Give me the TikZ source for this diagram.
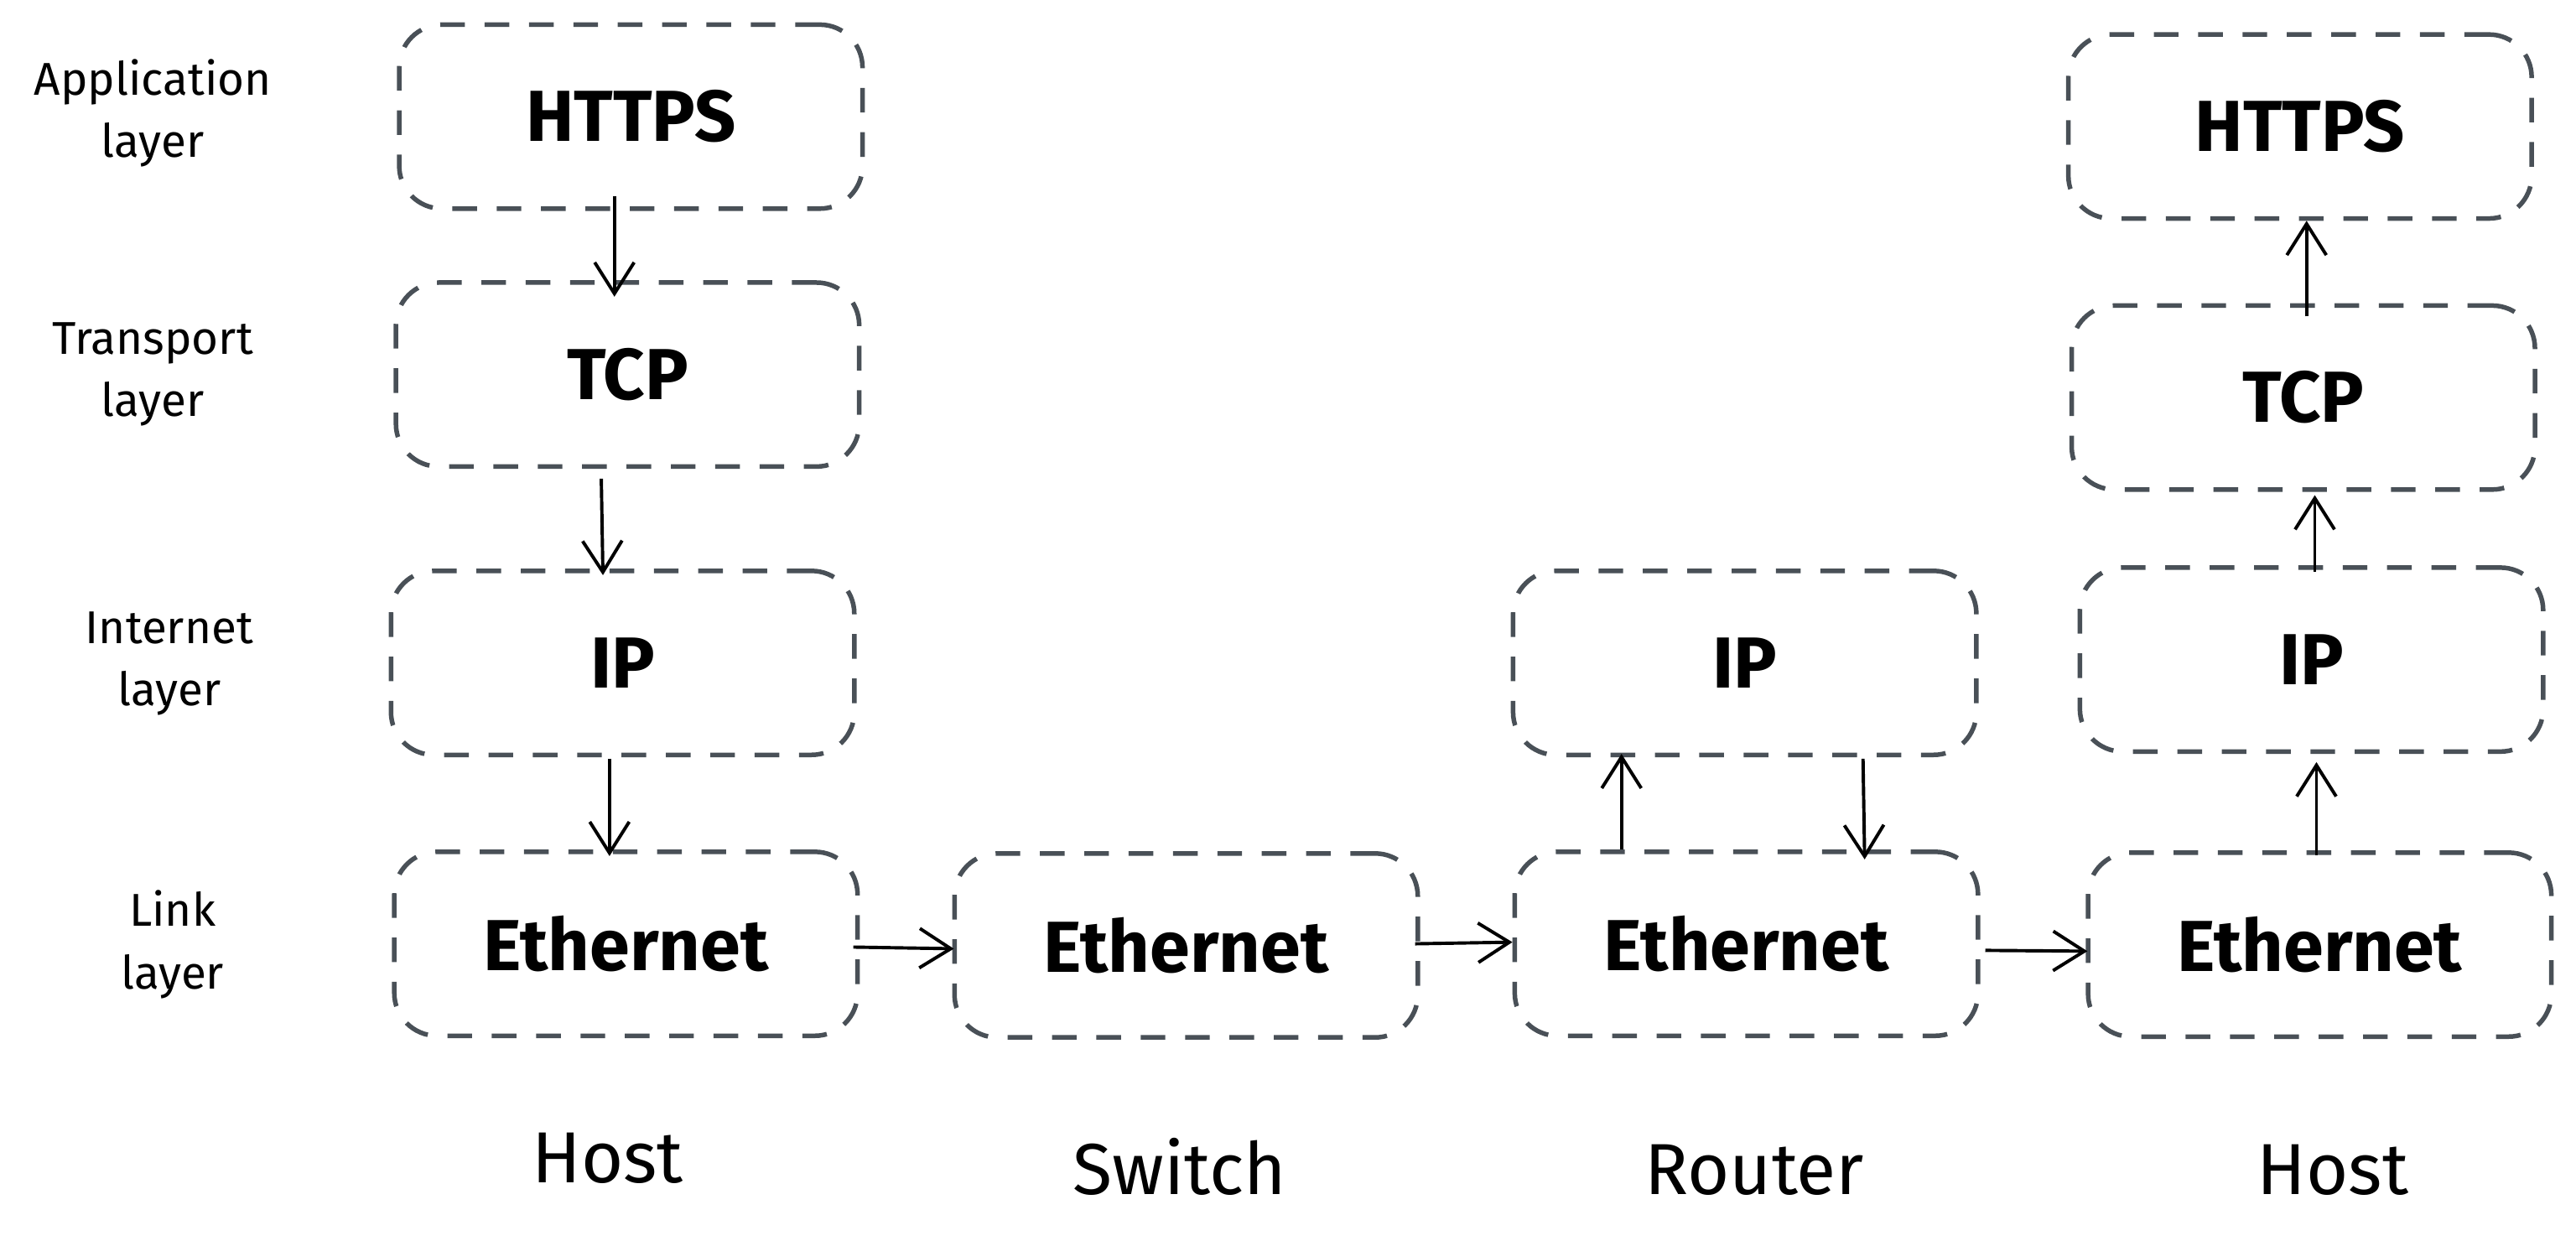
\documentclass[tikz,border=0pt]{standalone}
\usepackage{fontspec}
\setmainfont{Fira Sans}
\usetikzlibrary{arrows.meta}
\definecolor{boxgray}{RGB}{73,80,87}
\begin{document}
\begin{tikzpicture}[x=0.5pt,y=-0.5pt,
  layerbox/.style={draw=boxgray, line width=1.4pt, dash pattern=on 7.5pt off 6pt,
    rounded corners=13pt, minimum width=141pt, minimum height=56pt,
    font=\fontsize{22}{26}\selectfont\bfseries, text=black, inner sep=0pt},
  sidelabel/.style={align=center, font=\fontsize{14}{19}\selectfont, text=black},
  devlabel/.style={font=\fontsize{22}{26}\selectfont, text=black},
  arr/.style={draw=black, line width=1pt, -{Straight Barb[length=9.5pt,width=12pt]}}]
\useasboundingbox (0,0) rectangle (1568,755);
\fill[white] (0,0) rectangle (1568,755);

% side labels
\node[sidelabel] (lapp) at (93,69) {Application\\layer};
\node[sidelabel] (ltra) at (93,228) {Transport\\layer};
\node[sidelabel] (lint) at (103,404) {Internet\\layer};
\node[sidelabel] (llnk) at (105,575) {Link\\layer};

% host 1
\node[layerbox] (ha) at (384,71) {HTTPS};
\node[layerbox] (ht) at (382,228) {TCP};
\node[layerbox] (hi) at (379,403.5) {IP};
\node[layerbox] (he) at (381,574.5) {Ethernet};
% switch
\node[layerbox] (se) at (722,575.5) {Ethernet};
% router
\node[layerbox] (ri) at (1062,403.5) {IP};
\node[layerbox] (re) at (1063,574.5) {Ethernet};
% host 2
\node[layerbox] (ga) at (1400,77) {HTTPS};
\node[layerbox] (gt) at (1402,242) {TCP};
\node[layerbox] (gi) at (1407,401.5) {IP};
\node[layerbox] (ge) at (1412,575) {Ethernet};

% device labels
\node[devlabel] (d1) at (370,705) {Host};
\node[devlabel] (d2) at (718,710) {Switch};
\node[devlabel] (d3) at (1068,712) {Router};
\node[devlabel] (d4) at (1420,712) {Host};

% arrows down host 1
\draw[arr] ([xshift=-5pt,yshift=4.5pt]ha.south) -- ([xshift=-4pt,yshift=-5pt]ht.north);
\draw[arr] ([xshift=-8pt,yshift=-3pt]ht.south) -- ([xshift=-6pt,yshift=-2pt]hi.north);
\draw[arr] ([xshift=-4pt,yshift=-0.5pt]hi.south) -- ([xshift=-5pt,yshift=-2pt]he.north);
% horizontal
\draw[arr] ([xshift=-2pt,yshift=-1pt]he.east) -- ([xshift=0.5pt,yshift=-1pt]se.west);
\draw[arr] ([xshift=-1.5pt,yshift=0.5pt]se.east) -- ([yshift=0.5pt]re.west);
\draw[arr] ([xshift=1.5pt,yshift=-2pt]re.east) -- ([xshift=0.5pt,yshift=-2pt]ge.west);
% router
\draw[arr] ([xshift=-38pt]re.north) -- ([xshift=-37.5pt,yshift=1pt]ri.south);
\draw[arr] ([xshift=36pt,yshift=-0.5pt]ri.south) -- ([xshift=36pt,yshift=-3pt]re.north);
% host 2 up
\draw[arr] ([xshift=-1pt,yshift=-1.5pt]ge.north) -- ([xshift=1.5pt,yshift=-2.5pt]gi.south);
\draw[arr] ([xshift=1pt,yshift=-2pt]gi.north) -- ([xshift=3.5pt,yshift=-1pt]gt.south);
\draw[arr] ([xshift=1pt,yshift=-4pt]gt.north) -- ([xshift=2pt,yshift=0pt]ga.south);
\end{tikzpicture}
\end{document}
